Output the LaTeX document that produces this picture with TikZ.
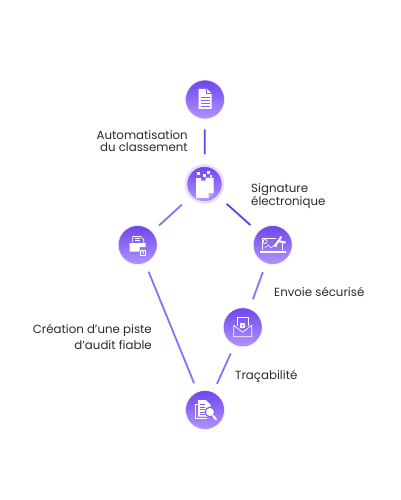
\documentclass[tikz,border=0pt]{standalone}
\usepackage{fontspec}
\setmainfont{Poppins}
\usetikzlibrary{positioning, shadows}
\definecolor{linkdark}{HTML}{6A3DEB}
\definecolor{linklight}{HTML}{8D6EF7}
\definecolor{disctop}{HTML}{6E45EC}
\definecolor{discbot}{HTML}{B294FF}
\definecolor{labelink}{HTML}{2B2B2B}
\tikzset{
  iconpaper/.style={fill=white, draw=none},
  iconline/.style={draw=white, line width=0.7pt},
  iconcut/.style={draw=disctop!85!white, line width=0.7pt},
  docicon/.pic={
    \fill[iconpaper] (-6.5,-10.5) -- (2,-10.5) -- (6.5,-6) -- (6.5,9.5) -- (-6.5,9.5) -- cycle;
    \draw[iconcut] (1.8,-10.5) -- (1.8,-5.8) -- (6.5,-5.8);
    \foreach \yy in {-2.5,0.5,3.5,6.5} \draw[iconcut] (-4.5,\yy) -- (4.5,\yy);
  },
  signicon/.pic={
    \fill[iconpaper] (-8.5,-6) -- (-3.5,-6) -- (-3.5,-3.5) -- (1,-3.5) -- (1,-6.5) -- (9,-6.5) -- (9,9) -- (4,14) -- (-8.5,14) -- cycle;
    \fill[disctop!45!white] (9,9) -- (4,9) -- (4,14) -- cycle;
    \fill[iconpaper] (-7.5,-12) rectangle (-4.5,-9);
    \fill[iconpaper] (-1.5,-10) rectangle (1,-7.5);
    \fill[iconpaper] (2.5,-13) rectangle (5.5,-10);
    \fill[iconpaper] (5.5,-9) rectangle (7.5,-7.5);
  },
  foldericon/.pic={
    \draw[iconline] (-5,-3) -- (-5,-8.5) -- (3,-8.5) -- (6,-5.5) -- (6,-1);
    \foreach \yy in {-6.5,-4.5} \draw[iconline, line width=0.5pt] (-3,\yy) -- (2.5,\yy);
    \fill[iconpaper] (-8,-2) -- (-8,6.5) -- (2,6.5) -- (2,2) -- (8,2) -- (8,-2) -- cycle;
    \draw[iconline] (3,5) rectangle (8,10.5);
    \draw[iconline] (4,5) arc[start angle=180, end angle=0, radius=1.5];
    \fill[iconpaper] (5.5,7.8) circle[radius=0.9];
  },
  laptopicon/.pic={
    \draw[iconline] (-10,5) -- (-10,-6.5) -- (3,-6.5);
    \draw[iconline] (10,-2) -- (10,5);
    \fill[iconpaper] (-13,6) rectangle (13,7.8);
    \draw[iconline] (-7.5,-3.5) circle[radius=2];
    \draw[iconline, line width=0.5pt] (-8,3) -- (-4.5,0) -- (-1.5,3) -- (2,-0.5) -- (4,2);
    \fill[iconpaper] (1,1) -- (8,-9) -- (9.5,-8) -- (3,2) -- cycle;
    \fill[iconpaper] (5,-5) -- (13,-3.5) -- (13,-1.5) -- (4.5,-3) -- cycle;
  },
  envelopeicon/.pic={
    \draw[iconline] (-5.5,-1) -- (-5.5,-10) -- (5.5,-10) -- (5.5,-1);
    \draw[iconline, line join=round] (-9,-2) -- (-9,9.5) -- (9,9.5) -- (9,-2) -- (0,5) -- cycle;
    \fill[iconpaper] (-2.5,-4) rectangle (2.5,1);
    \draw[iconline] (-1.7,-4) arc[start angle=180, end angle=0, radius=1.7];
    \fill[disctop] (0,-1.5) circle[radius=0.8];
  },
  auditicon/.pic={
    \draw[iconline] (-7.5,-6) -- (-9.5,-6) -- (-9.5,8.5) -- (2,8.5);
    \fill[iconpaper] (-7,-10) -- (1,-10) -- (5.5,-5.5) -- (5.5,6.5) -- (-7,6.5) -- cycle;
    \foreach \yy in {-5.5,-3,-0.5,2,4.5} \draw[iconcut] (-5,\yy) -- (0,\yy);
    \fill[disctop!85!white] (5,2) circle[radius=5.5];
    \fill[iconpaper] (5,2) circle[radius=4];
    \draw[white, line width=2pt, line cap=round] (8,5.5) -- (11,9.5);
  }
}
\begin{document}
\begin{tikzpicture}[
  x=1pt, y=-1pt,
  disc/.style={circle, minimum size=39pt, inner sep=0pt, top color=disctop, bottom color=discbot, draw=black!4, line width=0.6pt},
  discring/.style={disc, draw=disctop!18, line width=2.5pt, minimum size=37pt},
  link/.style={line width=1.8pt, draw=linkdark},
  softlink/.style={line width=1.8pt, draw=linklight},
  caption/.style={font=\fontsize{11.8}{12}\selectfont, text=labelink, inner sep=0pt}
]
\useasboundingbox (0,0) rectangle (400,500);

% Discs
\node[disc] (classement) at (205,99.5) {};
\node[discring] (signature) at (204.5,184) {};
\node[disc] (dossier) at (137.7,245) {};
\node[disc] (portable) at (272.7,245) {};
\node[disc] (envoi) at (242.7,327.3) {};
\node[disc] (audit) at (205,410) {};

% Icons
\pic at (classement) {docicon};
\pic at (signature) {signicon};
\pic at (dossier) {foldericon};
\pic at (portable) {laptopicon};
\pic at (envoi) {envelopeicon};
\pic at (audit) {auditicon};

% Links
\draw[link, shorten >=10pt, shorten <=10pt] (classement) -- (signature);
\draw[softlink, shorten <=11pt, shorten >=9pt] (signature) -- (dossier);
\draw[link, shorten <=10pt, shorten >=10pt] (signature) -- (portable);
\draw[softlink, shorten <=9pt, shorten >=10pt] (portable) -- (envoi);
\draw[softlink, shorten <=9pt, shorten >=9pt] (dossier) -- (audit);
\draw[softlink, shorten <=9pt, shorten >=9pt] (envoi) -- (audit);

% Captions
\node[caption, align=right, anchor=east] (autolabel) at (188,141.5) {Automatisation\\du classement};
\node[caption, align=left, anchor=west] (signlabel) at (251,196) {Signature\\électronique};
\node[caption, anchor=west] (envoilabel) at (274,291.5) {Envoie sécurisé};
\node[caption, anchor=west] (tracelabel) at (235,376) {Traçabilité};
\node[caption, align=right, anchor=east] (pistelabel) at (152,337) {Création d’une piste\\[3pt]d’audit fiable};
\end{tikzpicture}
\end{document}
